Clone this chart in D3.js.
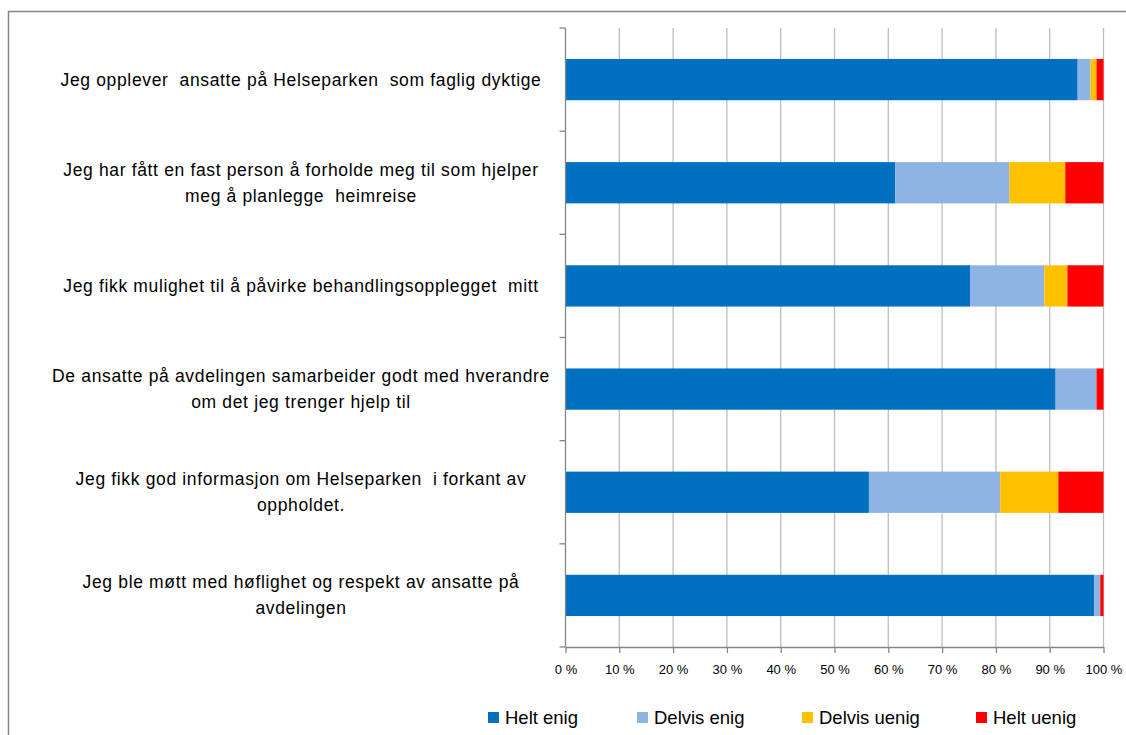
<!DOCTYPE html>
<html>
<head>
<meta charset="utf-8">
<script src="https://cdn.jsdelivr.net/npm/d3@7"></script>
<style>
  body { margin: 0; background: #fff; }
  svg { display: block; }
  text { font-family: "Liberation Sans", Arial, sans-serif; fill: #000; }
</style>
</head>
<body>
<div id="chart"></div>
<script>
// data (percent of answers)
var questions = [
  ["Jeg opplever  ansatte på Helseparken  som faglig dyktige"],
  ["Jeg har fått en fast person å forholde meg til som hjelper", "meg å planlegge  heimreise"],
  ["Jeg fikk mulighet til å påvirke behandlingsopplegget  mitt"],
  ["De ansatte på avdelingen samarbeider godt med hverandre", "om det jeg trenger hjelp til"],
  ["Jeg fikk god informasjon om Helseparken  i forkant av", "oppholdet."],
  ["Jeg ble møtt med høflighet og respekt av ansatte på", "avdelingen"]
];
var heltEnig    = [95.2, 61.3, 75.2, 91.1, 56.4, 98.3];
var delvisEnig  = [2.4, 21.2, 13.8, 7.6, 24.4, 1.1];
var delvisUenig = [1.1, 10.4, 4.3, 0.0, 10.8, 0.0];
var heltUenig   = [1.3, 7.1, 6.7, 1.3, 8.4, 0.6];
var seriesNames = ["Helt enig", "Delvis enig", "Delvis uenig", "Helt uenig"];
var seriesColors = ["#0070C0", "#8DB4E2", "#FFC000", "#FF0000"];
var xTicks = [0,10,20,30,40,50,60,70,80,90,100];

(function(){
var width=1126, height=735;
var plotL=565.5, plotR=1103.5, plotT=28, plotB=647;

var svg=d3.select("#chart").append("svg")
  .attr("width",width).attr("height",height);

// outer frame (runs past the picture on right and bottom)
svg.append("rect")
  .attr("x",8.5).attr("y",11.5)
  .attr("width",1300).attr("height",900)
  .attr("fill","none").attr("stroke","#868686").attr("stroke-width",1.5);

var x=d3.scaleLinear().domain([0,100]).range([plotL,plotR]);
var y=d3.scaleBand().domain(d3.range(questions.length)).range([plotT,plotB]).paddingInner(0.6).paddingOuter(0.3);

// gridlines
svg.append("g").selectAll("line")
  .data(xTicks.slice(1))
  .enter().append("line")
  .attr("x1",function(d){return x(d);}).attr("x2",function(d){return x(d);})
  .attr("y1",plotT).attr("y2",plotB)
  .attr("stroke","#BEBEBE").attr("stroke-width",1.3);

// stacked bars
var rows=questions.map(function(q,i){
  return {i:i, v:[heltEnig[i],delvisEnig[i],delvisUenig[i],heltUenig[i]]};
});
var stack=d3.stack().keys([0,1,2,3]).value(function(d,k){return d.v[k];});
var layers=stack(rows);

svg.append("g").selectAll("g")
  .data(layers)
  .enter().append("g")
  .attr("fill",function(d,i){return seriesColors[i];})
  .selectAll("rect")
  .data(function(d){return d;})
  .enter().append("rect")
  .attr("x",function(d){return x(d[0]);})
  .attr("width",function(d){return Math.max(0,x(d[1])-x(d[0]));})
  .attr("y",function(d){return y(d.data.i);})
  .attr("height",y.bandwidth());

// y axis line with ticks between categories
var ya=svg.append("g").attr("stroke","#868686").attr("stroke-width",1.3);
ya.append("line").attr("x1",plotL).attr("x2",plotL).attr("y1",plotT).attr("y2",plotB);
var step=(plotB-plotT)/questions.length;
ya.selectAll("line.t").data(d3.range(questions.length+1))
  .enter().append("line").attr("class","t")
  .attr("x1",plotL-6).attr("x2",plotL)
  .attr("y1",function(d){return plotT+d*step;}).attr("y2",function(d){return plotT+d*step;});

// x axis
var xa=svg.append("g").attr("transform","translate(0,"+plotB+")")
  .call(d3.axisBottom(x).tickValues(xTicks).tickSize(6).tickSizeOuter(0)
    .tickFormat(function(d){return d+" %";}));
xa.select(".domain").attr("stroke","#868686").attr("stroke-width",1.3);
xa.selectAll(".tick line").attr("stroke","#868686").attr("stroke-width",1.3);
xa.selectAll(".tick text").attr("dy",0).attr("y",27)
  .style("font-size","13px").style("fill","#000");

// category labels, centered
var labelX=301;
questions.forEach(function(q,i){
  var cy=y(i)+y.bandwidth()/2;
  var lh=26;
  var y0=cy-(q.length-1)*lh/2+6;
  var t=svg.append("text").attr("text-anchor","middle")
    .style("font-size","17.5px").style("letter-spacing","0.65px").style("white-space","pre");
  q.forEach(function(line,j){
    t.append("tspan").attr("x",labelX).attr("y",y0+j*lh).text(line);
  });
});

// legend
var legendX=[488,637,802,976];
var lg=svg.append("g").selectAll("g").data(seriesNames).enter().append("g")
  .attr("transform",function(d,i){return "translate("+legendX[i]+",712)";});
lg.append("rect").attr("width",11).attr("height",11)
  .attr("fill",function(d,i){return seriesColors[i];});
lg.append("text").attr("x",17).attr("y",12).style("font-size","18.5px")
  .text(function(d){return d;});
})();
</script>
</body>
</html>
